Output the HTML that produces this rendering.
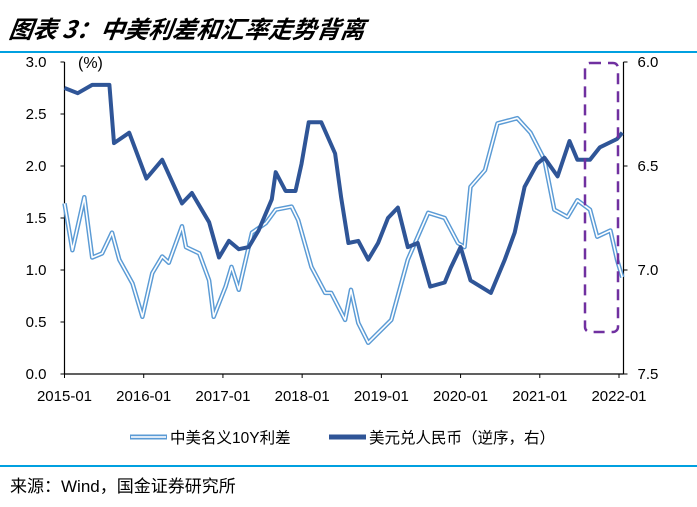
<!DOCTYPE html>
<html><head><meta charset="utf-8"><style>
body{margin:0;background:#fff;width:697px;height:502px;overflow:hidden;font-family:"Liberation Sans","Noto Sans CJK SC",sans-serif;}
</style></head><body>
<svg width="697" height="502" viewBox="0 0 697 502" xmlns="http://www.w3.org/2000/svg">
<text x="8" y="38" font-size="24" font-weight="bold" font-style="italic" font-family="'Noto Sans CJK SC',sans-serif" transform="skewX(-8)" style="transform-origin:8px 38px">图表 3：中美利差和汇率走势背离</text>
<line x1="0" y1="52" x2="697" y2="52" stroke="#00a0e0" stroke-width="2"/>
<g id="axes"></g>
<g id="series"></g>
<rect x="585" y="63" width="33" height="269" rx="5" fill="none" stroke="#7030a0" stroke-width="2.5" stroke-dasharray="11,7"/>
<g>
<g>
<line x1="130" y1="437" x2="167" y2="437" stroke="#5b9bd5" stroke-width="5"/><line x1="131" y1="437" x2="166" y2="437" stroke="#deeaf7" stroke-width="2"/>
<text x="170" y="443" font-size="15.5" fill="#000">中美名义10Y利差</text></g>
<g>
<line x1="329" y1="437" x2="366" y2="437" stroke="#2f5597" stroke-width="5"/>
<text x="369" y="443" font-size="15.5" fill="#000">美元兑人民币（逆序，右）</text></g>
</g>
<line x1="0" y1="466" x2="697" y2="466" stroke="#00a0e0" stroke-width="2"/>
<text x="10" y="492" font-size="17" fill="#000">来源：Wind，国金证券研究所</text>
</svg>
<script>
const xTickLabels=["2015-01","2016-01","2017-01","2018-01","2019-01","2020-01","2021-01","2022-01"];
const leftTicks=[0,0.5,1,1.5,2,2.5,3];
const rightTicks=[6.0,6.5,7.0,7.5];
const spreadMonths=[0,1.2,3.0,4.2,5.7,7.2,8.3,10.3,11.8,13.3,14.8,15.8,17.8,18.4,20.4,21.9,22.6,24.4,25.3,26.4,28.4,30.5,32.0,34.4,35.4,37.4,39.5,40.4,42.5,43.4,44.5,46.0,49.5,52.0,55.1,57.6,59.6,60.6,61.5,63.7,65.6,68.6,70.6,72.7,74.2,76.2,77.7,79.6,80.7,82.7,83.7,84.5];
const spreadValues=[1.64,1.19,1.7,1.12,1.16,1.36,1.1,0.87,0.55,0.97,1.13,1.07,1.42,1.22,1.16,0.9,0.55,0.84,1.03,0.81,1.36,1.45,1.58,1.61,1.48,1.03,0.78,0.78,0.52,0.81,0.49,0.3,0.52,1.1,1.55,1.5,1.26,1.22,1.8,1.96,2.41,2.46,2.32,2.06,1.58,1.51,1.67,1.58,1.32,1.38,1.1,0.93];
const fxMonths=[0,2.0,4.2,6.8,7.5,9.8,12.4,14.8,17.8,19.3,21.9,23.4,24.9,26.4,27.9,29.4,31.4,32.0,33.5,35.0,35.9,37.0,38.9,41.0,41.9,43.0,44.5,46.0,47.5,49.0,50.5,52.0,53.5,55.4,57.6,58.5,60.0,61.5,64.6,66.7,68.2,69.7,71.6,72.7,74.7,76.5,77.7,79.6,81.1,83.7,84.5];
const fxValues=[6.125,6.15,6.11,6.11,6.39,6.34,6.56,6.47,6.68,6.63,6.77,6.94,6.86,6.9,6.89,6.81,6.66,6.53,6.62,6.62,6.49,6.29,6.29,6.44,6.65,6.87,6.86,6.95,6.87,6.75,6.7,6.89,6.87,7.08,7.06,6.99,6.89,7.05,7.11,6.95,6.82,6.6,6.49,6.46,6.55,6.38,6.47,6.47,6.41,6.37,6.34];
const X0=64.5,XR=623.5,YT=62,YB=374;
const xS=m=>X0+m*(619-64.5)/84;
const yL=v=>YB-(v/3)*(YB-YT);
const yR=v=>YT+((v-6)/1.5)*(YB-YT);
const NS="http://www.w3.org/2000/svg";
const mk=(t,a,p)=>{const e=document.createElementNS(NS,t);for(const k in a)e.setAttribute(k,a[k]);p.appendChild(e);return e;};
const ax=document.getElementById('axes'),se=document.getElementById('series');
let e;
e=mk('line',{x1:X0,y1:YT,x2:X0,y2:YB,stroke:'#000','stroke-width':1.2},ax);


e=mk('line',{x1:XR,y1:YT,x2:XR,y2:YB,stroke:'#000','stroke-width':1.2},ax);


e=mk('line',{x1:X0,y1:YB,x2:XR,y2:YB,stroke:'#000','stroke-width':1.2},ax);


leftTicks.forEach(v=>{const y=yL(v);mk('line',{x1:X0-4,y1:y,x2:X0,y2:y,stroke:'#000'},ax);
 e=mk('text',{x:X0-18,y:y+5,'font-size':15,'text-anchor':'end'},ax);e.textContent=v.toFixed(1);
 
 });
rightTicks.forEach(v=>{const y=yR(v);mk('line',{x1:XR,y1:y,x2:XR+4,y2:y,stroke:'#000'},ax);
 e=mk('text',{x:XR+14,y:y+5,'font-size':15},ax);e.textContent=v.toFixed(1);
 
 });
xTickLabels.forEach((l,i)=>{const x=xS(i*12);mk('line',{x1:x,y1:YB,x2:x,y2:YB+4,stroke:'#000'},ax);
 e=mk('text',{x:x,y:401,'font-size':15,'text-anchor':'middle'},ax);e.textContent=l;
 
 });
e=mk('text',{x:78,y:68,'font-size':16},ax);e.textContent='(%)';


const pts=(ms,vs,f)=>ms.map((m,i)=>xS(m).toFixed(1)+','+f(vs[i]).toFixed(1)).join(' ');
const sp=pts(spreadMonths,spreadValues,yL);
e=mk('polyline',{points:sp,fill:'none',stroke:'#5b9bd5','stroke-width':4.5,'stroke-linejoin':'round'},se);


e=mk('polyline',{points:sp,fill:'none',stroke:'#ffffff','stroke-width':1.6,'stroke-linejoin':'round'},se);


e=mk('polyline',{points:pts(fxMonths,fxValues,yR),fill:'none',stroke:'#2f5597','stroke-width':4,'stroke-linejoin':'round'},se);


</script>
</body></html>
